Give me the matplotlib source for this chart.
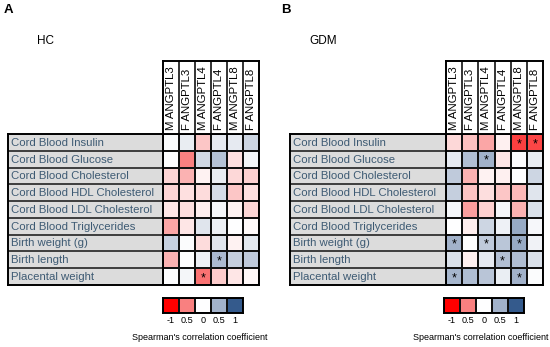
import numpy as np
import matplotlib
matplotlib.use("Agg")
import matplotlib.pyplot as plt
from matplotlib.colors import LinearSegmentedColormap

plt.rcParams['font.family'] = ['Liberation Sans', 'DejaVu Sans']

W, H = 550, 347

rows = ["Cord Blood Insulin", "Cord Blood Glucose", "Cord Blood Cholesterol",
        "Cord Blood HDL Cholesterol", "Cord Blood LDL Cholesterol",
        "Cord Blood Triglycerides", "Birth weight (g)", "Birth length",
        "Placental weight"]
cols = ["M ANGPTL3", "F ANGPTL3", "M ANGPTL4", "F ANGPTL4", "M ANGPTL8", "F ANGPTL8"]

# Spearman rho, healthy controls
hc_rho = [
    [0.03, 0.12, -0.22, 0.14, 0.14, 0.28],
    [0.00, -0.50, 0.25, 0.40, -0.12, 0.07],
    [-0.17, -0.30, -0.05, 0.12, -0.15, -0.18],
    [-0.17, -0.12, -0.14, 0.23, -0.22, -0.12],
    [-0.10, -0.13, -0.07, 0.05, -0.05, -0.16],
    [-0.35, -0.10, 0.17, 0.10, 0.00, -0.02],
    [0.30, 0.02, -0.14, 0.17, -0.05, 0.15],
    [-0.30, 0.00, 0.10, 0.45, 0.32, 0.35],
    [0.01, 0.06, -0.55, -0.20, -0.10, -0.03],
]
hc_sig = [(7, 3), (8, 2)]

# Spearman rho, GDM
gdm_rho = [
    [-0.15, -0.25, -0.35, -0.06, -0.75, -0.72],
    [0.14, 0.42, 0.50, -0.10, 0.01, 0.12],
    [0.35, -0.30, -0.05, -0.06, 0.00, 0.27],
    [0.32, -0.23, -0.13, -0.22, -0.28, 0.17],
    [0.06, -0.38, -0.18, 0.06, -0.30, 0.20],
    [0.00, -0.07, 0.27, 0.09, 0.55, 0.05],
    [0.50, 0.01, 0.35, 0.37, 0.55, 0.08],
    [0.20, -0.06, 0.14, 0.42, 0.43, 0.20],
    [0.48, 0.43, 0.38, 0.11, 0.50, 0.02],
]
gdm_sig = [(0, 4), (0, 5), (1, 2), (6, 0), (6, 2), (6, 4), (7, 3), (8, 0), (8, 4)]

legend_vals = [-1, -0.5, 0, 0.5, 1]
legend_labels = ["-1", "0.5", "0", "0.5", "1"]

cmap = LinearSegmentedColormap.from_list(
    "rho", ["#ff0000", "#f98080", "#ffffff", "#a3b3cb", "#345a8c"])

label_color = "#3d5a73"
gray = "#dcdcdc"


def rect(x0, y0, x1, y1):
    return [x0 / W, 1 - y1 / H, (x1 - x0) / W, (y1 - y0) / H]


def panel(fig, rho, sig, xl, xg, xe, cbx, labx):
    rho = np.array(rho)
    nr, nc = rho.shape
    ytop, ybot, yhead = 134, 285, 61

    # heatmap cells
    ax = fig.add_axes(rect(xg, ytop, xe, ybot))
    ax.pcolormesh(rho, cmap=cmap, vmin=-1, vmax=1, edgecolors="#111111", linewidth=1.2)
    for r, c in sig:
        ax.text(c + 0.5, r + 0.6, "*", ha="center", va="center", fontsize=9)
    ax.set_xlim(0, nc)
    ax.set_ylim(nr, 0)
    ax.set_xticks([])
    ax.set_yticks([])
    for s in ax.spines.values():
        s.set_linewidth(1.4)

    # row labels
    al = fig.add_axes(rect(xl, ytop, xg, ybot))
    al.set_facecolor(gray)
    al.set_xlim(0, 1)
    al.set_ylim(nr, 0)
    for i in range(1, nr):
        al.axhline(i, color="#222222", lw=1.2)
    for i, name in enumerate(rows):
        al.text(0.02, i + 0.52, name, ha="left", va="center", fontsize=8.2, color=label_color)
    al.set_xticks([])
    al.set_yticks([])
    for s in al.spines.values():
        s.set_linewidth(1.4)

    # column headers
    ah = fig.add_axes(rect(xg, yhead, xe, ytop))
    ah.set_xlim(0, nc)
    ah.set_ylim(0, 1)
    for j in range(1, nc):
        ah.axvline(j, color="#111111", lw=1.2)
    for j, name in enumerate(cols):
        ah.text(j + 0.5, 0.05, name, rotation=90, ha="center", va="bottom", fontsize=8.2)
    ah.set_xticks([])
    ah.set_yticks([])
    for s in ah.spines.values():
        s.set_linewidth(1.4)

    # legend
    ac = fig.add_axes(rect(cbx, 298, cbx + 80, 313))
    ac.pcolormesh(np.array([legend_vals]), cmap=cmap, vmin=-1, vmax=1,
                  edgecolors="#111111", linewidth=1.2)
    ac.set_xlim(0, len(legend_vals))
    ac.set_ylim(0, 1)
    ac.set_yticks([])
    ac.set_xticks(np.arange(len(legend_vals)) + 0.5)
    ac.set_xticklabels(legend_labels, fontsize=6.6)
    ac.tick_params(axis="x", length=0, pad=2.5)
    for s in ac.spines.values():
        s.set_linewidth(1.4)
    fig.text(labx / W, 1 - 337 / H, "Spearman's correlation coefficient",
             fontsize=6.5, ha="center", va="center")


fig = plt.figure(figsize=(W / 100, H / 100), dpi=100)

panel(fig, hc_rho, hc_sig, 8, 163, 259, 163, 200)
panel(fig, gdm_rho, gdm_sig, 290, 446, 543, 444, 481)

fig.text(4 / W, 1 - 10 / H, "A", fontsize=9.5, fontweight="bold", va="center", ha="left")
fig.text(281 / W, 1 - 10 / H, "B", fontsize=9.5, fontweight="bold", va="center", ha="left")
fig.text(37 / W, 1 - 41 / H, "HC", fontsize=8.5, va="center", ha="left")
fig.text(309 / W, 1 - 41 / H, "GDM", fontsize=8.5, va="center", ha="left")

fig.savefig("out.png", dpi=100)
